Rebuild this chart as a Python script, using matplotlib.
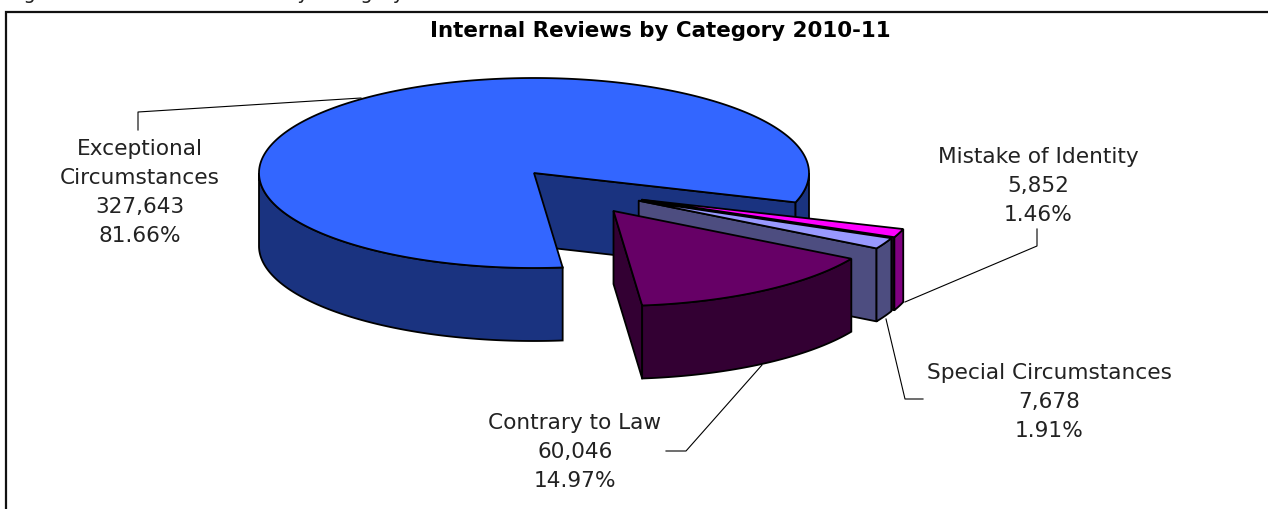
import numpy as np
import matplotlib
matplotlib.use('Agg')
import matplotlib.pyplot as plt
from matplotlib.patches import Polygon

categories = ['Exceptional\nCircumstances', 'Contrary to Law', 'Special Circumstances', 'Mistake of Identity']
reviews = [327643, 60046, 7678, 5852]
tops = ['#3366ff', '#660066', '#9999ff', '#ff00ff']
sides = ['#1a3380', '#330033', '#4d4d80', '#800080']
walls = ['#1a3380', '#330033', '#4d4d80', '#1a001a']

# top face ellipse and pie height, in pixels
RX, RY, DEPTH = 275, 95, 73
START = -18.0
centres = [(534, 174), (613.5, 212), (638.7, 201.7), (641.7, 200.7)]
label_pos = [(140, 149), (575, 423), (1049, 373), (1038, 157)]
leaders = [
    [(361, 99), (138, 113), (138, 131)],
    [(762, 366), (686, 452), (666, 452)],
    [(886, 320), (905, 400), (923, 400)],
    [(905, 303), (1037, 247), (1037, 230)],
]
LINE = 1.3


def rim_xy(c, t):
    t = np.radians(t)
    return c[0] + RX * np.cos(t), c[1] - RY * np.sin(t)


def draw_slice(ax, c, t0, t1, top, side, wall_col, z):
    # wall at the low angle end
    ex, ey = rim_xy(c, t0)
    wall = [(c[0], c[1]), (ex, ey), (ex, ey + DEPTH), (c[0], c[1] + DEPTH)]
    ax.add_patch(Polygon(wall, fc=wall_col, ec='black', lw=LINE, joinstyle='round', zorder=z))
    # outer rim, only the front half of the ellipse shows
    for lo, hi in [(-180, 0), (180, 360)]:
        a, b = max(t0, lo), min(t1, hi)
        if a < b:
            t = np.linspace(a, b, 200)
            x, y = rim_xy(c, t)
            pts = np.r_[np.c_[x, y], np.c_[x, y + DEPTH][::-1]]
            ax.add_patch(Polygon(pts, fc=side, ec='black', lw=LINE, zorder=z + 0.1))
    t = np.linspace(t0, t1, 400)
    x, y = rim_xy(c, t)
    pts = np.r_[[c], np.c_[x, y]]
    ax.add_patch(Polygon(pts, fc=top, ec='black', lw=LINE, zorder=z + 0.2))


total = sum(reviews)
spans = [v / total * 360 for v in reviews]

fig = plt.figure(figsize=(12.68, 5.10), dpi=100)
ax = fig.add_axes([0, 0, 1, 1])
ax.set_xlim(0, 1268)
ax.set_ylim(510, 0)
ax.axis('off')

# frame runs off the right and bottom of the crop
ax.plot([6, 6, 1268], [510, 12.5, 12.5], color='#111111', lw=1.6, solid_joinstyle='miter', zorder=1)

ax.text(8, -1, 'Figure 5.1: Internal Reviews by Category', fontsize=14, color='#222222',
        ha='left', va='baseline', clip_on=False)
ax.text(660, 31, 'Internal Reviews by Category 2010-11', fontsize=15.4, fontweight='bold',
        color='black', ha='center', va='center')

# the wedges run clockwise from START after the large slice
draw_slice(ax, centres[0], START, START + spans[0], tops[0], sides[0], walls[0], 2)
hi = START
for i in [3, 2, 1]:
    lo = hi - spans[i]
    draw_slice(ax, centres[i], lo, hi, tops[i], sides[i], walls[i], 3 + (3 - i))
    hi = lo

for pts in leaders:
    xs, ys = zip(*pts)
    ax.plot(xs, ys, color='black', lw=0.8, zorder=1.5)

LINE_GAP = 29
for name, v, (x, y) in zip(categories, reviews, label_pos):
    lines = name.split('\n') + [f'{v:,}', f'{v / total:.2%}']
    for j, s in enumerate(lines):
        ax.text(x, y + j * LINE_GAP, s, fontsize=15.6, color='#222222', ha='center', va='center')

fig.savefig('out.png', dpi=100)
